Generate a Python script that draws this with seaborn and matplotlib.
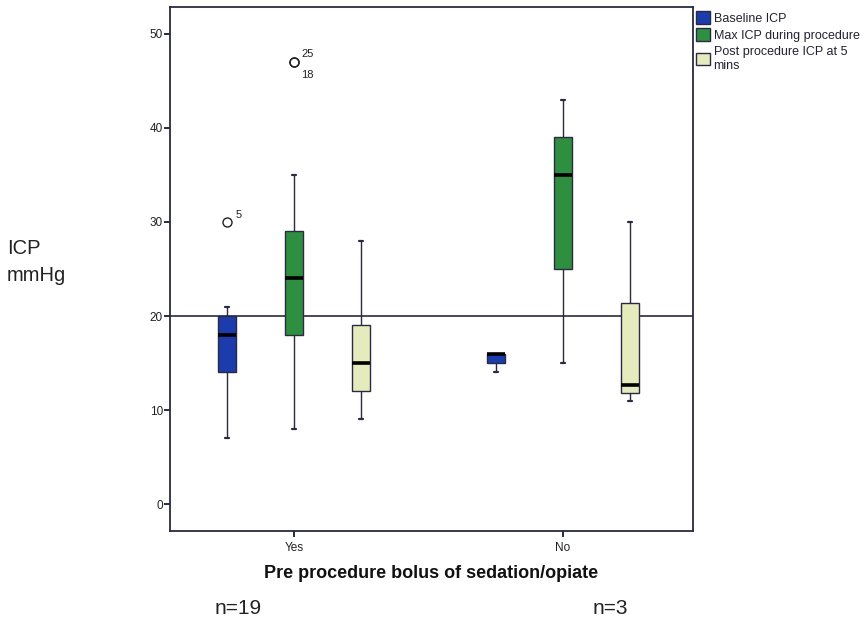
import numpy as np
import pandas as pd
import matplotlib
matplotlib.use("Agg")
import matplotlib.pyplot as plt
from matplotlib.patches import Patch
import seaborn as sns

# ICP readings (mmHg) by pre-procedure bolus group
groups = ["Yes", "No"]
measures = ["Baseline ICP", "Max ICP during procedure", "Post procedure ICP at 5 mins"]
legend_labels = ["Baseline ICP", "Max ICP during procedure", "Post procedure ICP at 5\nmins"]

yes_baseline = [7, 10, 12, 13, 14, 14, 15, 16, 17, 18, 18, 19, 20, 20, 20, 20, 21, 21, 30]
yes_max = [8, 12, 15, 17, 18, 18, 20, 21, 23, 24, 25, 26, 28, 29, 29, 31, 35, 47, 47]
yes_post = [9, 10, 10, 11, 12, 12, 13, 14, 14, 15, 16, 17, 18, 19, 19, 20, 22, 25, 28]
no_baseline = [14, 16, 16]
no_max = [15, 35, 43]
no_post = [11, 12.7, 30]

# case numbers of the labelled outliers: (group, measure, value, label, offset)
outlier_labels = [
    ("Yes", "Baseline ICP", 30, "5", (6, 5)),
    ("Yes", "Max ICP during procedure", 47, "25", (5, 6)),
    ("Yes", "Max ICP during procedure", 47, "18", (5, -9)),
]
n_labels = ["n=19", "n=3"]
threshold = 20

palette = {
    "Baseline ICP": "#1c3cae",
    "Max ICP during procedure": "#2e8f40",
    "Post procedure ICP at 5 mins": "#e6ebbe",
}

series = {
    ("Yes", measures[0]): yes_baseline,
    ("Yes", measures[1]): yes_max,
    ("Yes", measures[2]): yes_post,
    ("No", measures[0]): no_baseline,
    ("No", measures[1]): no_max,
    ("No", measures[2]): no_post,
}
rows = [(g, m, v) for (g, m), vals in series.items() for v in vals]
df = pd.DataFrame(rows, columns=["group", "measure", "icp"])

sns.set_theme(style="white")
plt.rcParams["font.family"] = ["Liberation Sans", "DejaVu Sans"]

ink = "#2a2a40"
fig = plt.figure(figsize=(8.67, 6.19), dpi=100)
ax = fig.add_axes([170 / 867, 1 - 531 / 619, 523 / 867, 524 / 619])

sns.boxplot(
    data=df, x="group", y="icp", hue="measure",
    order=groups, hue_order=measures, palette=palette,
    width=0.75, gap=0.73, whis=1.5, legend=False, ax=ax,
    linecolor=ink, linewidth=1.0,
    medianprops=dict(color="black", linewidth=2.6),
    capprops=dict(color=ink, linewidth=1.6),
    capwidths=0.016,
    flierprops=dict(marker="o", markersize=6.5, markerfacecolor="none",
                    markeredgecolor="#222222", markeredgewidth=1.0),
    saturation=1,
)

ax.axhline(threshold, color=ink, linewidth=1.2, zorder=0.5)

# case-number labels next to the outliers
hue_offsets = dict(zip(measures, [-0.25, 0.0, 0.25]))
for g, m, v, lab, off in outlier_labels:
    xpos = groups.index(g) + hue_offsets[m]
    ax.annotate(lab, xy=(xpos, v), xytext=off, textcoords="offset points",
                fontsize=8, color="#222222", ha="left", va="center")

ax.set_xlim(-0.461, 1.483)
ax.set_ylim(-2.87, 52.87)
ax.set_yticks([0, 10, 20, 30, 40, 50])
ax.set_xlabel("Pre procedure bolus of sedation/opiate", fontsize=13,
              fontweight="bold", color="#111111", labelpad=8)
ax.set_ylabel("")
ax.tick_params(axis="both", length=4, width=1.4, color=ink,
               labelsize=8.5, labelcolor="#222222", pad=1, direction="out")
ax.tick_params(axis="x", bottom=True, pad=4)
ax.tick_params(axis="y", left=True)
for sp in ax.spines.values():
    sp.set_color(ink)
    sp.set_linewidth(1.3)

fig.text(7 / 867, 1 - 262 / 619, "ICP\nmmHg", fontsize=14.5, color="#222222",
         ha="left", va="center", linespacing=1.5)

fig.text(238 / 867, 1 - 608 / 619, n_labels[0], fontsize=15, color="#222222",
         ha="center", va="center")
fig.text(610 / 867, 1 - 608 / 619, n_labels[1], fontsize=15, color="#222222",
         ha="center", va="center")

handles = [Patch(facecolor=palette[m], edgecolor=ink, linewidth=1.0) for m in measures]
fig.legend(handles, legend_labels, loc="upper left",
           bbox_to_anchor=(696 / 867, 1 - 11 / 619), bbox_transform=fig.transFigure,
           frameon=False, fontsize=9, handlelength=1.1, handleheight=1.2,
           handletextpad=0.3, labelspacing=0.3, borderpad=0, borderaxespad=0,
           labelcolor="#222233")

fig.savefig("out.png", dpi=100)
